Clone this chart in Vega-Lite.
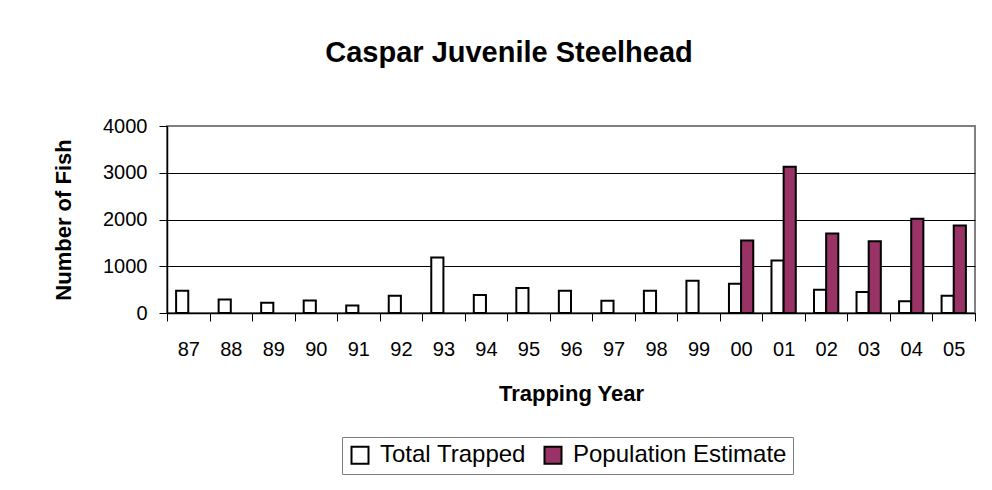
{
  "$schema": "https://vega.github.io/schema/vega-lite/v6.json",
  "autosize": "none",
  "width": 808,
  "height": 187,
  "padding": {"left": 167, "top": 126, "right": 17, "bottom": 177},
  "background": "white",
  "title": {
    "text": "Caspar Juvenile Steelhead",
    "font": "Liberation Sans",
    "fontSize": 29,
    "fontWeight": "bold",
    "color": "#000000",
    "anchor": "middle",
    "dx": -62,
    "offset": 25,
    "baseline": "alphabetic"
  },
  "data": {
    "values": [
      {"year": "87", "series": "Total Trapped", "value": 476},
      {"year": "88", "series": "Total Trapped", "value": 291},
      {"year": "89", "series": "Total Trapped", "value": 220},
      {"year": "90", "series": "Total Trapped", "value": 270},
      {"year": "91", "series": "Total Trapped", "value": 163},
      {"year": "92", "series": "Total Trapped", "value": 369},
      {"year": "93", "series": "Total Trapped", "value": 1187},
      {"year": "94", "series": "Total Trapped", "value": 384},
      {"year": "95", "series": "Total Trapped", "value": 533},
      {"year": "96", "series": "Total Trapped", "value": 476},
      {"year": "97", "series": "Total Trapped", "value": 263},
      {"year": "98", "series": "Total Trapped", "value": 476},
      {"year": "99", "series": "Total Trapped", "value": 689},
      {"year": "00", "series": "Total Trapped", "value": 625},
      {"year": "00", "series": "Population Estimate", "value": 1549},
      {"year": "01", "series": "Total Trapped", "value": 1123},
      {"year": "01", "series": "Population Estimate", "value": 3126},
      {"year": "02", "series": "Total Trapped", "value": 497},
      {"year": "02", "series": "Population Estimate", "value": 1698},
      {"year": "03", "series": "Total Trapped", "value": 448},
      {"year": "03", "series": "Population Estimate", "value": 1535},
      {"year": "04", "series": "Total Trapped", "value": 249},
      {"year": "04", "series": "Population Estimate", "value": 2018},
      {"year": "05", "series": "Total Trapped", "value": 369},
      {"year": "05", "series": "Population Estimate", "value": 1869}
    ]
  },
  "mark": {"type": "bar", "stroke": "#000000", "strokeWidth": 2, "opacity": 1},
  "encoding": {
    "x": {
      "field": "year",
      "type": "nominal",
      "sort": null,
      "scale": {"paddingInner": 0, "paddingOuter": 0},
      "axis": {
        "title": "Trapping Year",
        "labelAngle": 0,
        "tickBand": "extent",
        "tickSize": 8,
        "tickColor": "#000000",
        "domainColor": "#000000",
        "domainWidth": 1.5,
        "labelPadding": 18,
        "titlePadding": 24
      }
    },
    "xOffset": {
      "field": "series",
      "type": "nominal",
      "scale": {"domain": ["Total Trapped", "Population Estimate"], "paddingInner": 0, "paddingOuter": 0.75}
    },
    "y": {
      "field": "value",
      "type": "quantitative",
      "scale": {"domain": [0, 4000], "nice": false},
      "axis": {
        "title": "Number of Fish",
        "format": "d",
        "values": [0, 1000, 2000, 3000, 4000],
        "grid": true,
        "gridColor": {"condition": {"test": "datum.value == 4000", "value": "#808080"}, "value": "#000000"},
        "gridWidth": 1,
        "tickSize": 8,
        "tickColor": "#000000",
        "domainColor": "#000000",
        "domainWidth": 1.5,
        "labelPadding": 12,
        "titlePadding": 27
      }
    },
    "fill": {
      "field": "series",
      "type": "nominal",
      "scale": {"domain": ["Total Trapped", "Population Estimate"], "range": ["#FFFFFF", "#993366"]},
      "legend": {
        "title": null,
        "orient": "none",
        "legendX": 175,
        "legendY": 311,
        "direction": "horizontal",
        "symbolType": "square",
        "symbolSize": 289,
        "symbolStrokeColor": "#000000",
        "symbolStrokeWidth": 2,
        "symbolOpacity": 1,
        "labelFontSize": 24,
        "labelLimit": 400,
        "labelFont": "Liberation Sans",
        "labelColor": "#000000",
        "labelOffset": 8,
        "columnPadding": 14,
        "padding": 6,
        "strokeColor": "#808080",
        "fillColor": "#FFFFFF"
      }
    }
  },
  "config": {
    "view": {"stroke": "#808080", "strokeWidth": 2},
    "axis": {
      "labelFont": "Liberation Sans",
      "labelFontSize": 20,
      "labelColor": "#000000",
      "titleFont": "Liberation Sans",
      "titleFontSize": 22,
      "titleFontWeight": "bold",
      "titleColor": "#000000"
    }
  }
}
